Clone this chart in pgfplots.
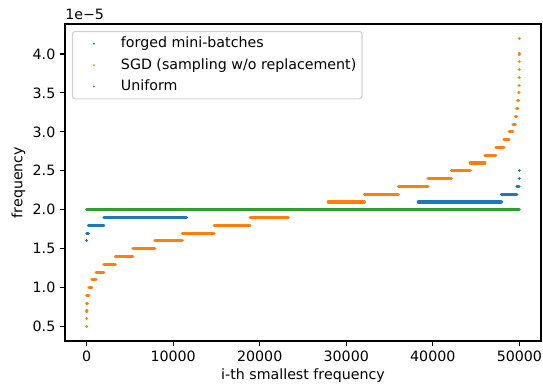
\documentclass[border=0pt]{standalone}
\usepackage{fontspec}
\setmainfont{DejaVu Sans}
\usepackage{pgfplots}
\pgfplotsset{compat=1.18}
\definecolor{c0}{HTML}{1F77B4}
\definecolor{c1}{HTML}{FF7F0E}
\definecolor{c2}{HTML}{2CA02C}
\newcommand{\fs}{\fontsize{10.66}{12.8}\selectfont}
\begin{document}
\begin{tikzpicture}
\begin{axis}[
  at={(0,0)}, anchor=south west,
  scale only axis, width=357pt, height=237.75pt,
  xmin=-2500, xmax=52500, ymin=0.315, ymax=4.385,
  xtick={0,10000,20000,30000,40000,50000},
  ytick={0.5,1.0,1.5,2.0,2.5,3.0,3.5,4.0},
  xtick pos=left, ytick pos=left,
  tick align=outside, major tick length=3.73pt,
  tick style={line width=0.85pt, black},
  axis line style={line width=0.85pt},
  scaled ticks=false,
  /pgf/number format/assume math mode=true,
  xticklabel style={/pgf/number format/1000 sep={}},
  yticklabel style={/pgf/number format/.cd, fixed, fixed zerofill, precision=1},
  tick label style={font=\fs},
  unbounded coords=jump,
  legend cell align=left,
  legend style={at={(0,1)}, anchor=north west, xshift=5.2pt, yshift=-5.2pt,
    draw=black!18, line width=0.85pt, rounded corners=2pt, fill=white,
    inner xsep=4.26pt, inner ysep=3.75pt, row sep=5pt,
    nodes={inner sep=0pt, text height=8.5pt, text depth=2.5pt},
    /tikz/every odd column/.append style={column sep=8.5pt},
    font=\fs},
]
\addplot[color=c0, line width=2.3pt, line cap=round, line join=round,
  legend image code/.code={\path (0pt,-3pt) (21.3pt,3pt); \fill[c0,draw=none] (10.65pt,0pt) circle (0.8pt);}]
coordinates {
(0,1.6) (1,1.6) (nan,nan)
(0,1.7) (200,1.7) (nan,nan)
(200,1.8) (1985,1.8) (nan,nan)
(1985,1.9) (11560,1.9) (nan,nan)
(11560,2.0) (38320,2.0) (nan,nan)
(38320,2.1) (47915,2.1) (nan,nan)
(47915,2.2) (49715,2.2) (nan,nan)
(49715,2.3) (49960,2.3) (nan,nan)
(49990,2.4) (49991,2.4) (nan,nan)
(50000,2.5) (50001,2.5)
};
\addlegendentry{forged mini-batches}
\addplot[color=c1, line width=2.3pt, line cap=round, line join=round,
  legend image code/.code={\path (0pt,-3pt) (21.3pt,3pt); \fill[c1,draw=none] (10.65pt,0pt) circle (0.8pt);}]
coordinates {
(0,0.5) (1,0.5) (nan,nan)
(0,0.6) (1,0.6) (nan,nan)
(0,0.7) (30,0.7) (nan,nan)
(0,0.8) (100,0.8) (nan,nan)
(0,0.9) (270,0.9) (nan,nan)
(270,1.0) (600,1.0) (nan,nan)
(600,1.1) (1090,1.1) (nan,nan)
(1090,1.2) (1985,1.2) (nan,nan)
(1985,1.3) (3325,1.3) (nan,nan)
(3325,1.4) (5335,1.4) (nan,nan)
(5335,1.5) (7875,1.5) (nan,nan)
(7875,1.6) (11070,1.6) (nan,nan)
(11070,1.7) (14735,1.7) (nan,nan)
(14735,1.8) (18900,1.8) (nan,nan)
(18900,1.9) (23300,1.9) (nan,nan)
(23300,2.0) (27920,2.0) (nan,nan)
(27920,2.1) (32090,2.1) (nan,nan)
(32090,2.2) (36010,2.2) (nan,nan)
(36010,2.3) (39445,2.3) (nan,nan)
(39445,2.4) (42145,2.4) (nan,nan)
(42145,2.5) (44325,2.5) (nan,nan)
(44325,2.6) (46025,2.6) (nan,nan)
(46025,2.7) (47285,2.7) (nan,nan)
(47285,2.8) (48225,2.8) (nan,nan)
(48225,2.9) (48815,2.9) (nan,nan)
(48815,3.0) (49255,3.0) (nan,nan)
(49255,3.1) (49540,3.1) (nan,nan)
(49540,3.2) (49695,3.2) (nan,nan)
(49695,3.3) (49815,3.3) (nan,nan)
(49815,3.4) (49910,3.4) (nan,nan)
(49910,3.5) (49960,3.5) (nan,nan)
(49960,3.6) (49985,3.6) (nan,nan)
(49990,3.7) (49991,3.7) (nan,nan)
(49994,3.8) (49995,3.8) (nan,nan)
(49997,3.9) (49998,3.9) (nan,nan)
(49999,4.0) (50000,4.0) (nan,nan)
(50000,4.2) (50001,4.2)
};
\addlegendentry{SGD (sampling w/o replacement)}
\addplot[color=c2, line width=2.3pt, line cap=round,
  legend image code/.code={\path (0pt,-3pt) (21.3pt,3pt); \fill[c2,draw=none] (10.65pt,0pt) circle (0.8pt);}]
coordinates {(0,2.0) (50000,2.0)};
\addlegendentry{Uniform}
\end{axis}
\node[anchor=base west, inner sep=0pt, font=\fs] at (0pt,240.75pt) {1e−5};
\node[rotate=90, anchor=center, font=\fs] at (-35pt,118.875pt) {frequency};
\node[anchor=center, font=\fs] at (178.5pt,-26.25pt) {i-th smallest frequency};
\pgfresetboundingbox
\path (-48.75pt,-36pt) rectangle (358.5pt,255.75pt);
\end{tikzpicture}
\end{document}
